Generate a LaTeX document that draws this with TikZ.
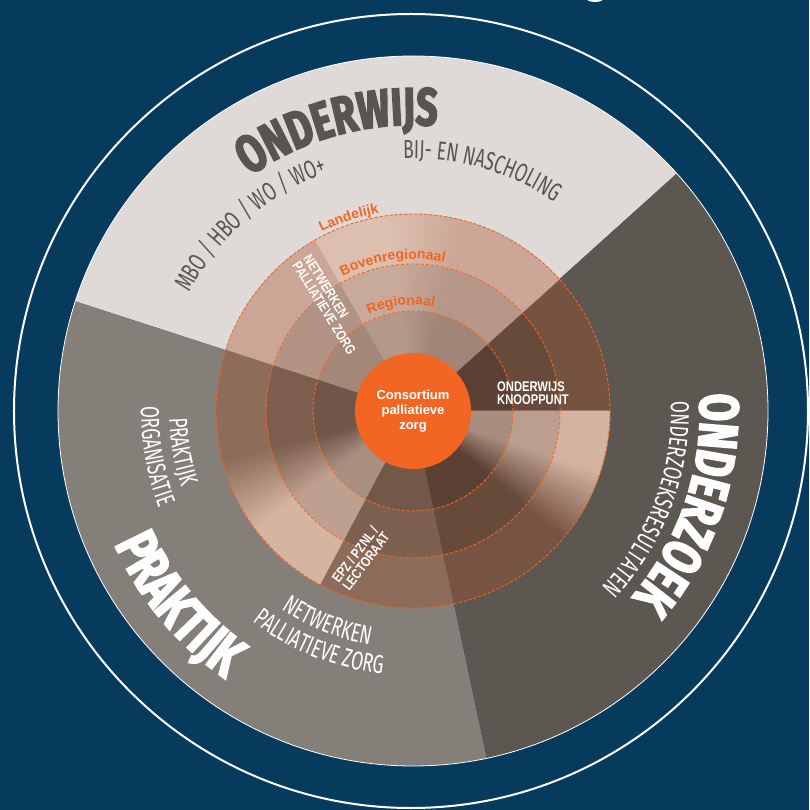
\documentclass[tikz,border=0pt]{standalone}
\usepackage{fontspec}
\setmainfont{Liberation Sans}
\newfontfamily\titlefam[FakeStretch=0.72, BoldFeatures={FakeBold=3}]{Fira Sans}
\newfontfamily\thinfam[FakeStretch=0.67]{Fira Sans}
\newfontfamily\narrowfam[FakeStretch=0.8]{Liberation Sans}
\usetikzlibrary{decorations.text}
\usetikzlibrary{positioning}

\definecolor{navyc}{HTML}{063B5E}
\definecolor{educ}{HTML}{DFDAD7}
\definecolor{pracc}{HTML}{857F79}
\definecolor{resc}{HTML}{5D5751}
\definecolor{orangec}{HTML}{F26522}
\definecolor{greytext}{HTML}{5A544E}
% ring colours: 1 = inner ring, 2 = middle ring, 3 = outer ring
\definecolor{knp1}{HTML}{5B4133}\definecolor{knp2}{HTML}{674A3A}\definecolor{knp3}{HTML}{765241}
\definecolor{topl1}{HTML}{B4988A}\definecolor{topl2}{HTML}{C8AA9B}\definecolor{topl3}{HTML}{DCBFAF}
\definecolor{topd1}{HTML}{A28576}\definecolor{topd2}{HTML}{B79787}\definecolor{topd3}{HTML}{CCA696}
\definecolor{nws1}{HTML}{A38778}\definecolor{nws2}{HTML}{B39383}\definecolor{nws3}{HTML}{CBA595}
\definecolor{lfd1}{HTML}{6F5648}\definecolor{lfd2}{HTML}{7D5E4E}\definecolor{lfd3}{HTML}{8E6C5A}
\definecolor{lfl1}{HTML}{A98F80}\definecolor{lfl2}{HTML}{BEA090}\definecolor{lfl3}{HTML}{D5B4A2}
\definecolor{epz1}{HTML}{715849}\definecolor{epz2}{HTML}{7E6050}\definecolor{epz3}{HTML}{8D6B59}
\definecolor{rtd1}{HTML}{5B4133}\definecolor{rtd2}{HTML}{684A3B}\definecolor{rtd3}{HTML}{775343}
\definecolor{rtl1}{HTML}{A88D7E}\definecolor{rtl2}{HTML}{BC9E8E}\definecolor{rtl3}{HTML}{D4B3A2}

\newcommand{\ttlfnt}{\titlefam\bfseries\fontsize{55}{55}\selectfont}
\newcommand{\ttlfntbig}{\titlefam\bfseries\fontsize{58}{58}\selectfont}
\newcommand{\ttlfntmid}{\titlefam\bfseries\fontsize{53}{53}\selectfont}
\newcommand{\subfnt}{\thinfam\fontsize{26}{26}\selectfont}
\newcommand{\ringfnt}{\bfseries\fontsize{14}{14}\selectfont}

% one piece of a ring: start angle, end angle, inner radius, outer radius, colour
\newcommand{\ringpart}[5]{%
  \fill[fill=#5, draw=#5, line width=0.5pt] (#1:#3) arc[start angle=#1, end angle=#2, radius=#3]
    -- (#2:#4) arc[start angle=#2, end angle=#1, radius=#4] -- cycle;}
% same, fading from one colour to another
\newcommand{\ringfade}[6]{%
  \foreach \k in {0,...,21}{%
    \pgfmathsetmacro{\fadeA}{#1+(#2-#1)*\k/22}%
    \pgfmathsetmacro{\fadeB}{#1+(#2-#1)*(\k+1)/22}%
    \pgfmathsetmacro{\fadeP}{100-100*(\k+0.5)/22}%
    \colorlet{fadec}{#5!\fadeP!#6}%
    \ringpart{\fadeA}{\fadeB}{#3}{#4}{fadec}}}

\tikzset{
    ringline/.style = {draw=orangec, line width=0.9pt, dash pattern=on 3pt off 2pt},
    core/.style = {circle, fill=orangec, minimum size=116pt, inner sep=0pt, align=center, text=white, font=\bfseries\fontsize{13}{15.3}\selectfont},
    smalllab/.style = {inner sep=0pt, align=left, text=white, font=\narrowfam\bfseries\fontsize{14}{13}\selectfont},
    arctext/.style = {decorate, decoration={text along path, text align=center, text color=#1}},
}

\begin{document}
\begin{tikzpicture}[x=1pt, y=1pt]
\useasboundingbox (-413,-399) rectangle (396,411);
\fill[navyc] (-413,-399) rectangle (396,411);
\fill[white] (182,413) ellipse[x radius=9, y radius=4];
\draw[white, line width=2pt] (-2,0) circle[radius=397];
%
\fill[educ] (0,0) -- (42:355) arc[start angle=42, end angle=162, radius=355] -- cycle;
\fill[pracc] (0,0) -- (162:355) arc[start angle=162, end angle=282, radius=355] -- cycle;
\fill[resc] (0,0) -- (282:355) arc[start angle=282, end angle=402, radius=355] -- cycle;
\draw[white, line width=0.8pt] (0,0) circle[radius=355];
%
\foreach \ri/\ro/\n in {40/100/1, 100/147/2, 147/197/3}{
  \ringpart{0}{42}{\ri}{\ro}{knp\n}
  \ringpart{42}{75}{\ri}{\ro}{topd\n}
  \ringfade{75}{97}{\ri}{\ro}{topd\n}{topl\n}
  \ringpart{97}{120}{\ri}{\ro}{topl\n}
  \ringpart{120}{162}{\ri}{\ro}{nws\n}
  \ringpart{162}{195}{\ri}{\ro}{lfd\n}
  \ringfade{195}{217}{\ri}{\ro}{lfd\n}{lfl\n}
  \ringpart{217}{242}{\ri}{\ro}{lfl\n}
  \ringpart{242}{282}{\ri}{\ro}{epz\n}
  \ringpart{282}{320}{\ri}{\ro}{rtd\n}
  \ringfade{320}{342}{\ri}{\ro}{rtd\n}{rtl\n}
  \ringpart{342}{360}{\ri}{\ro}{rtl\n}
}
\foreach \r in {100,147,197}
  \draw[ringline] (0,0) circle[radius=\r];
%
\node[core] (core) at (0,0) {Consortium\\palliatieve\\zorg};
\node[smalllab, anchor=west] (hub) at (84,18) {ONDERWIJS\\KNOOPPUNT};
\node[smalllab, anchor=west, rotate=-58] (net) at (-111.6,151.7) {NETWERKEN\\PALLIATIEVE ZORG};
\node[smalllab, anchor=west, rotate=53] (epz) at (-73,-174) {EPZ / PZNL /\\LECTORAAT};
%
\path[arctext=orangec, decoration={text={|\ringfnt|Landelijk}}] (148.4:201) arc[start angle=148.4, end angle=68.4, radius=201];
\path[arctext=orangec, decoration={text={|\ringfnt|Bovenregionaal}}] (147.8:152) arc[start angle=147.8, end angle=47.8, radius=152];
\path[arctext=orangec, decoration={text={|\ringfnt|Regionaal}}] (136.5:106) arc[start angle=136.5, end angle=56.5, radius=106];
%
\path[arctext=greytext, decoration={text={|\ttlfntmid|ONDERWIJS}}] (150:286) arc[start angle=150, end angle=60, radius=286];
\path[arctext=greytext, decoration={text={|\subfnt|BIJ- EN NASCHOLING}}] (120:252.5) arc[start angle=120, end angle=28, radius=252.5];
\path[arctext=greytext, decoration={text={|\subfnt|MBO / HBO / WO / WO+}}] (176:253) arc[start angle=176, end angle=86, radius=253];
%
\path[arctext=white, decoration={text={|\ttlfnt|ONDERZOEK}}] (30:287) arc[start angle=30, end angle=-67, radius=287];
\path[arctext=white, decoration={text={|\subfnt|ONDERZOEKSRESULTATEN}}] (30:258) arc[start angle=30, end angle=-71, radius=258];
%
\path[arctext=white, decoration={text={|\ttlfntbig|PRAKTIJK}}] (174:327) arc[start angle=174, end angle=265, radius=327];
\path[arctext=white, decoration={text={|\subfnt|PRAKTIJK}}] (160:244) arc[start angle=160, end angle=220, radius=244];
\path[arctext=white, decoration={text={|\subfnt|ORGANISATIE}}] (160:272) arc[start angle=160, end angle=220, radius=272];
\path[arctext=white, decoration={text={|\subfnt|NETWERKEN}}] (218:238) arc[start angle=218, end angle=278, radius=238];
\path[arctext=white, decoration={text={|\subfnt|PALLIATIEVE ZORG}}] (212:265) arc[start angle=212, end angle=284, radius=265];
\end{tikzpicture}
\end{document}
